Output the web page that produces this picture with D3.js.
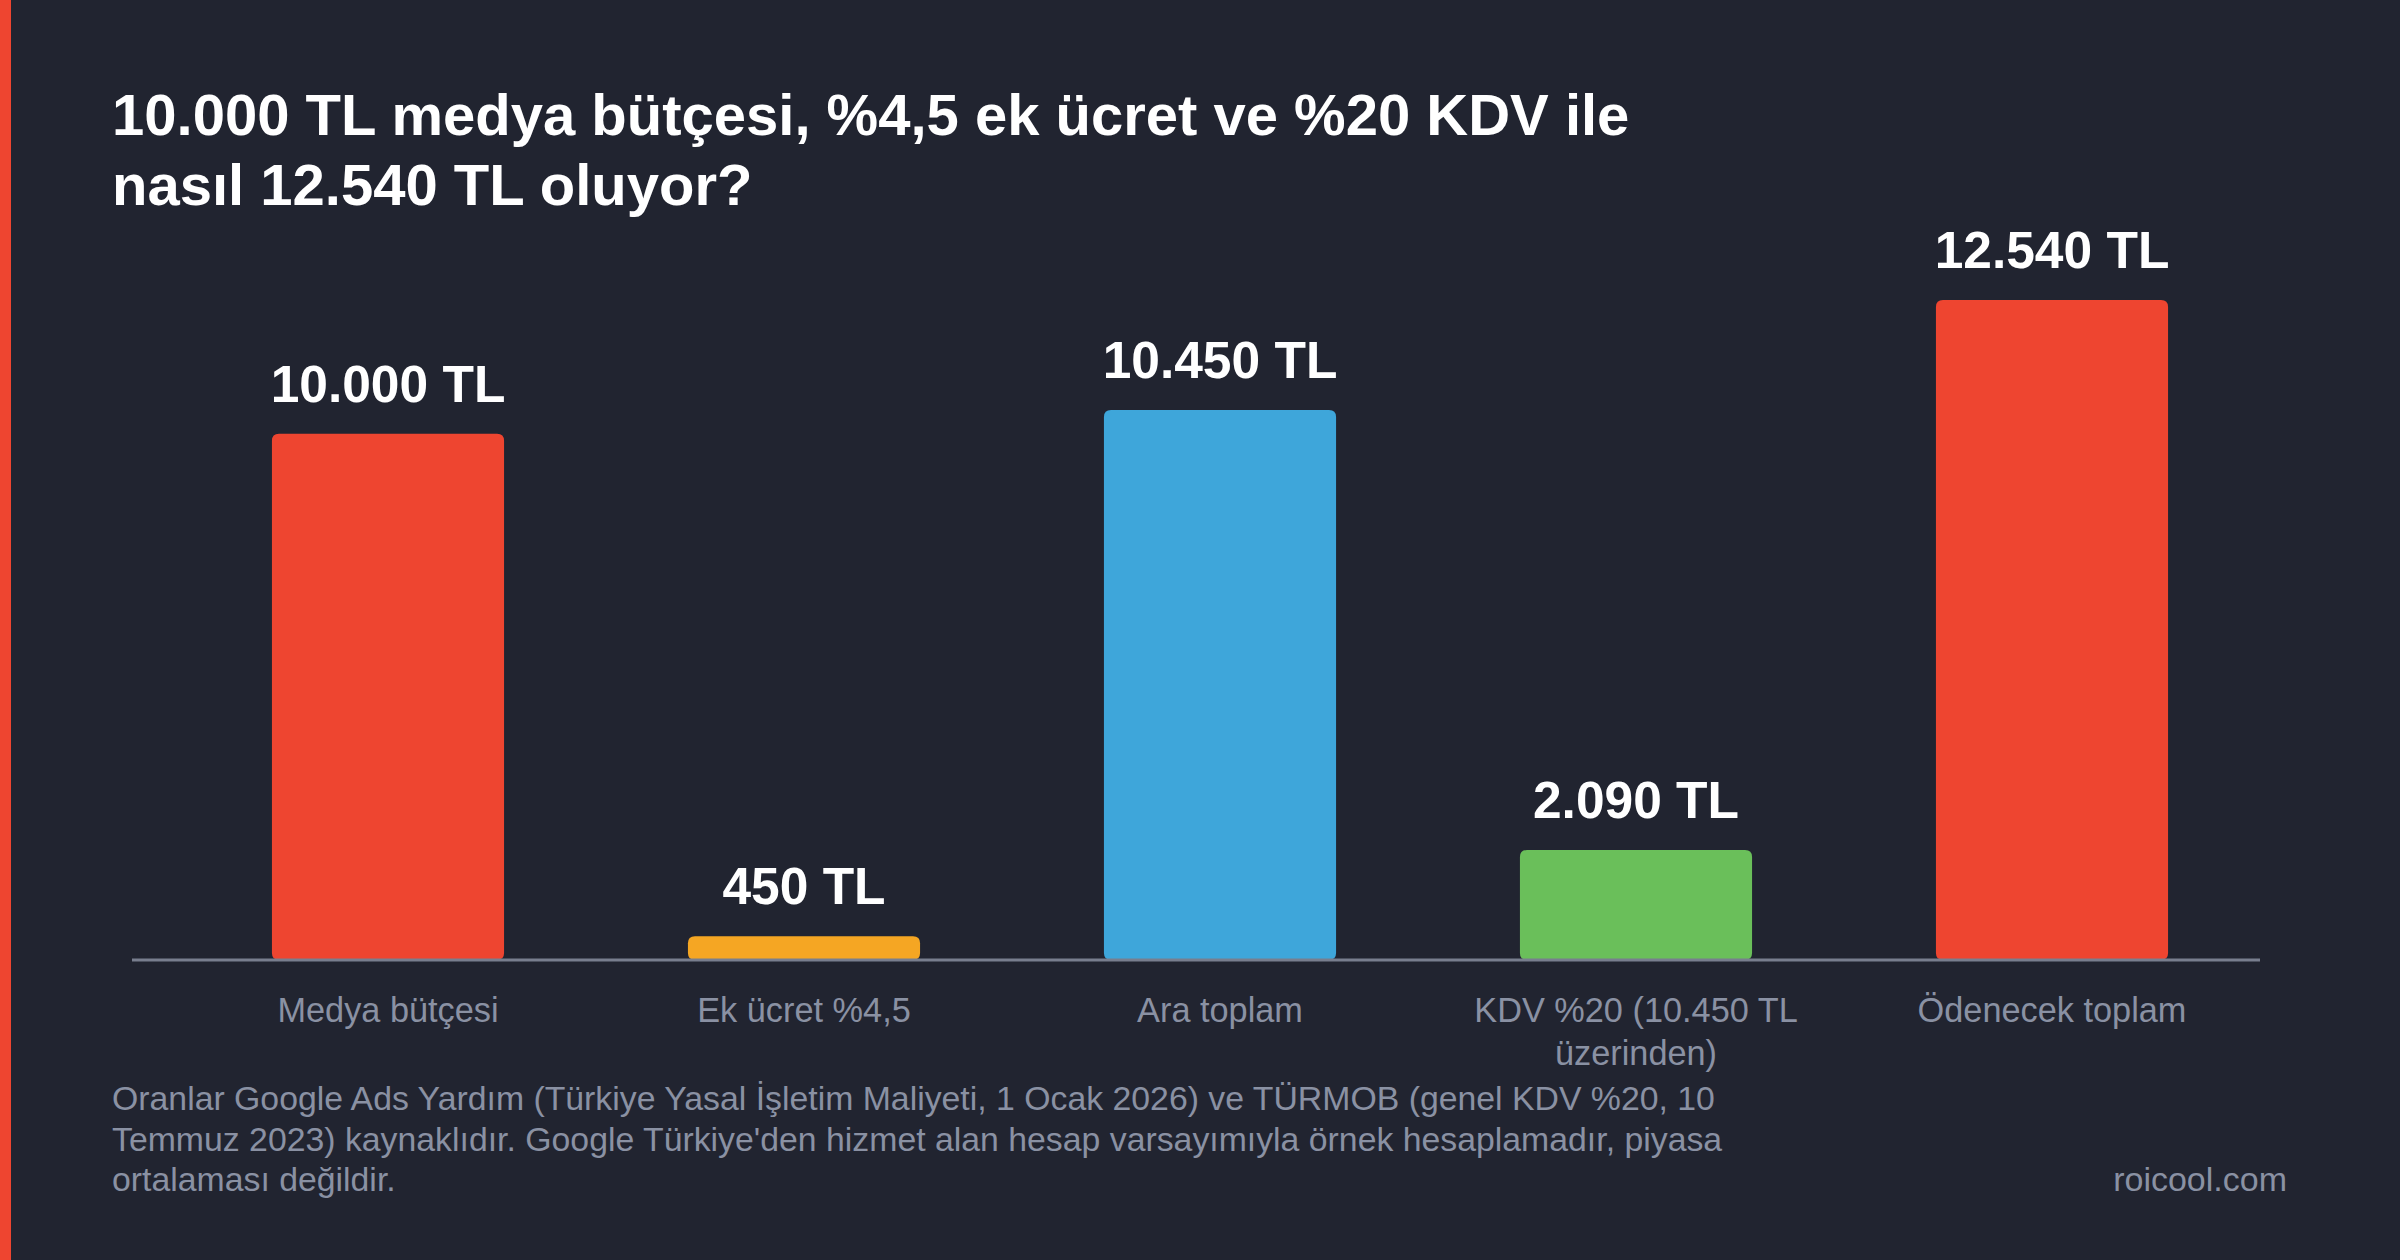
<!DOCTYPE html>
<html>
<head>
<meta charset="utf-8">
<script src="https://cdn.jsdelivr.net/npm/d3@7"></script>
<style>
html,body{margin:0;padding:0;background:#212430;}
svg{display:block;}
text{font-family:"Liberation Sans",Arial,Helvetica,sans-serif;}
</style>
</head>
<body>
<svg id="chart" width="2400" height="1260"></svg>
<script>
const categories = ["Medya bütçesi", "Ek ücret %4,5", "Ara toplam", "KDV %20 (10.450 TL üzerinden)", "Ödenecek toplam"];
const categoryLines = [["Medya bütçesi"], ["Ek ücret %4,5"], ["Ara toplam"], ["KDV %20 (10.450 TL", "üzerinden)"], ["Ödenecek toplam"]];
const values = [10000, 450, 10450, 2090, 12540];
const valueLabels = ["10.000 TL", "450 TL", "10.450 TL", "2.090 TL", "12.540 TL"];
const barColors = ["#ee4530", "#f5a623", "#3ea6da", "#6abf5a", "#ee4530"];
const titleLines = ["10.000 TL medya bütçesi, %4,5 ek ücret ve %20 KDV ile", "nasıl 12.540 TL oluyor?"];
const footnoteLines = [
  "Oranlar Google Ads Yardım (Türkiye Yasal İşletim Maliyeti, 1 Ocak 2026) ve TÜRMOB (genel KDV %20, 10",
  "Temmuz 2023) kaynaklıdır. Google Türkiye'den hizmet alan hesap varsayımıyla örnek hesaplamadır, piyasa",
  "ortalaması değildir."
];
const sourceLabel = "roicool.com";

const svg = d3.select("#chart");
const W = 2400, H = 1260;

svg.append("rect").attr("width", W).attr("height", H).attr("fill", "#212430");
svg.append("rect").attr("x", 0).attr("y", 0).attr("width", 11).attr("height", H).attr("fill", "#ee4530");

// Title
svg.append("g").selectAll("text").data(titleLines).join("text")
  .attr("x", 112).attr("y", (d, i) => 135 + i * 70)
  .attr("fill", "#ffffff").attr("font-size", 58).attr("font-weight", "bold")
  .text(d => d);

const baseY = 960;
const x = d3.scaleBand().domain(categories).range([180, 2260]).paddingInner(0.442).paddingOuter(0.221);
const y = d3.scaleLinear().domain([0, 13794]).range([baseY, 234]);

const r = 7;
function barPath(x0, y0, w, h) {
  const rr = Math.min(r, h / 2, w / 2);
  return `M${x0},${y0 + rr} Q${x0},${y0} ${x0 + rr},${y0} L${x0 + w - rr},${y0} Q${x0 + w},${y0} ${x0 + w},${y0 + rr} L${x0 + w},${y0 + h - rr} Q${x0 + w},${y0 + h} ${x0 + w - rr},${y0 + h} L${x0 + rr},${y0 + h} Q${x0},${y0 + h} ${x0},${y0 + h - rr} Z`;
}

const bars = svg.append("g");
bars.selectAll("path").data(values).join("path")
  .attr("d", (d, i) => barPath(x(categories[i]), y(d), x.bandwidth(), baseY - y(d)))
  .attr("fill", (d, i) => barColors[i]);

// Baseline axis
svg.append("line").attr("x1", 132).attr("x2", 2260).attr("y1", baseY).attr("y2", baseY)
  .attr("stroke", "#787e8e").attr("stroke-width", 3);

// Value labels
svg.append("g").selectAll("text").data(values).join("text")
  .attr("x", (d, i) => x(categories[i]) + x.bandwidth() / 2)
  .attr("y", d => y(d) - 32)
  .attr("text-anchor", "middle")
  .attr("fill", "#ffffff").attr("font-size", 51.5).attr("font-weight", "bold")
  .text((d, i) => valueLabels[i]);

// Category labels
const cat = svg.append("g").selectAll("text").data(categories).join("text")
  .attr("x", d => x(d) + x.bandwidth() / 2)
  .attr("y", 1022)
  .attr("text-anchor", "middle")
  .attr("fill", "#8a91a3").attr("font-size", 34.3);
cat.each(function(d, i) {
  d3.select(this).selectAll("tspan").data(categoryLines[i]).join("tspan")
    .attr("x", x(d) + x.bandwidth() / 2)
    .attr("dy", (t, j) => j === 0 ? 0 : 43)
    .text(t => t);
});

// Footnote
svg.append("g").selectAll("text").data(footnoteLines).join("text")
  .attr("x", 112).attr("y", (d, i) => 1110 + i * 40.5)
  .attr("fill", "#8a91a3").attr("font-size", 33.8)
  .text(d => d);

svg.append("text").attr("x", 2287).attr("y", 1191).attr("text-anchor", "end")
  .attr("fill", "#8a91a3").attr("font-size", 34).text(sourceLabel);
</script>
</body>
</html>
